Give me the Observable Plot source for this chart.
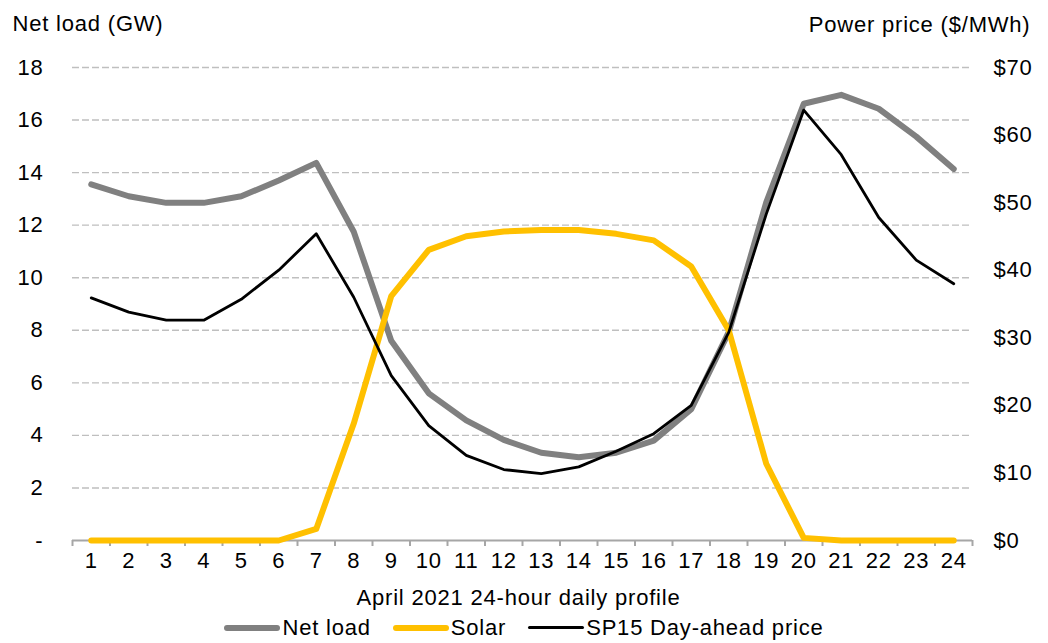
<!DOCTYPE html>
<html>
<head>
<meta charset="utf-8">
<script src="https://cdn.jsdelivr.net/npm/d3@7"></script>
<script src="https://cdn.jsdelivr.net/npm/@observablehq/plot@0.6"></script>
<style>
  html, body { margin: 0; padding: 0; background: #fff; }
  body { width: 1048px; height: 643px; overflow: hidden; font-family: "Liberation Sans", Arial, sans-serif; }
  #legend { display: flex; justify-content: center; align-items: center; height: 31px; font-size: 22px; letter-spacing: 0.8px; color: #000; }
  #legend .item { display: flex; align-items: center; margin: 0 11px; }
  #legend .sw { width: 56px; border-radius: 4px; margin-right: 2px; }
</style>
</head>
<body>
<div id="chart"></div>
<div id="legend"></div>
<script>
const hours = [1,2,3,4,5,6,7,8,9,10,11,12,13,14,15,16,17,18,19,20,21,22,23,24];
const netLoad = [13.55,13.1,12.85,12.85,13.1,13.7,14.37,11.75,7.6,5.6,4.57,3.83,3.34,3.17,3.34,3.8,5.0,7.93,12.87,16.62,16.96,16.43,15.37,14.14];
const solar = [0,0,0,0,0,0,0.44,4.45,9.3,11.06,11.58,11.76,11.82,11.82,11.67,11.42,10.43,8.0,2.92,0.1,0,0,0,0];
const price = [35.9,33.8,32.6,32.6,35.7,40.0,45.4,36.0,24.4,17.0,12.6,10.5,9.9,10.9,13.2,15.8,20.0,30.8,48.3,63.7,57.1,47.8,41.5,38.0];
const gwTicks = [0,2,4,6,8,10,12,14,16,18];
const priceTicks = [0,10,20,30,40,50,60,70];
const seriesNames = ["Net load", "Solar", "SP15 Day-ahead price"];
const seriesColors = ["#808080", "#FFC000", "#000000"];
const leftTitle = "Net load (GW)";
const rightTitle = "Power price ($/MWh)";
const xTitle = "April 2021 24-hour daily profile";

const GW_MAX = 18, P_MAX = 70;
const toGW = p => p * GW_MAX / P_MAX;

const rows = hours.map((h, i) => ({hour: h, net: netLoad[i], solar: solar[i], price: price[i]}));
const bounds = hours.map(h => h - 0.5).concat([hours[hours.length - 1] + 0.5]);

const chart = Plot.plot({
  width: 1048,
  height: 612,
  marginLeft: 72,
  marginRight: 76,
  marginTop: 67,
  marginBottom: 72,
  style: {fontFamily: "Liberation Sans, Arial, sans-serif", fontSize: "22px", letterSpacing: "0.8px", color: "#000", background: "#fff"},
  x: {type: "linear", domain: [0.5, 24.5], label: null},
  y: {domain: [0, GW_MAX], label: null},
  marks: [
    Plot.gridY(gwTicks.filter(d => d > 0), {stroke: "#bfbfbf", strokeOpacity: 1, strokeWidth: 1.4, strokeDasharray: "7,3"}),
    Plot.ruleY([0], {stroke: "#a6a6a6", strokeWidth: 2}),
    Plot.axisX(bounds, {tickSize: 6, tickFormat: () => "", stroke: "#a6a6a6", strokeWidth: 2, label: null}),
    Plot.axisX(hours, {tickSize: 0, tickPadding: 12, tickFormat: d => String(d), label: null}),
    Plot.axisY(gwTicks, {anchor: "left", tickSize: 0, tickPadding: 29, tickFormat: d => d === 0 ? "-" : String(d), label: null}),
    Plot.axisY(priceTicks.map(toGW), {anchor: "right", tickSize: 0, tickPadding: 21, tickFormat: v => "$" + Math.round(v * P_MAX / GW_MAX), label: null}),
    Plot.line(rows, {x: "hour", y: "net", stroke: seriesColors[0], strokeWidth: 6}),
    Plot.line(rows, {x: "hour", y: "solar", stroke: seriesColors[1], strokeWidth: 6}),
    Plot.line(rows, {x: "hour", y: d => toGW(d.price), stroke: seriesColors[2], strokeWidth: 2.8}),
    Plot.text([leftTitle], {frameAnchor: "top-left", dx: -60, dy: -37, lineAnchor: "bottom", textAnchor: "start"}),
    Plot.text([rightTitle], {frameAnchor: "top-right", dx: 58, dy: -36, lineAnchor: "bottom", textAnchor: "end"}),
    Plot.text([xTitle], {frameAnchor: "bottom", dx: -4, dy: 64, lineAnchor: "bottom"})
  ]
});
document.getElementById("chart").appendChild(chart);

const legend = document.getElementById("legend");
seriesNames.forEach((name, i) => {
  const item = document.createElement("div");
  item.className = "item";
  const sw = document.createElement("span");
  sw.className = "sw";
  sw.style.height = (i === 2 ? 3 : 6) + "px";
  sw.style.background = seriesColors[i];
  const t = document.createElement("span");
  t.textContent = name;
  item.appendChild(sw);
  item.appendChild(t);
  legend.appendChild(item);
});
</script>
</body>
</html>
